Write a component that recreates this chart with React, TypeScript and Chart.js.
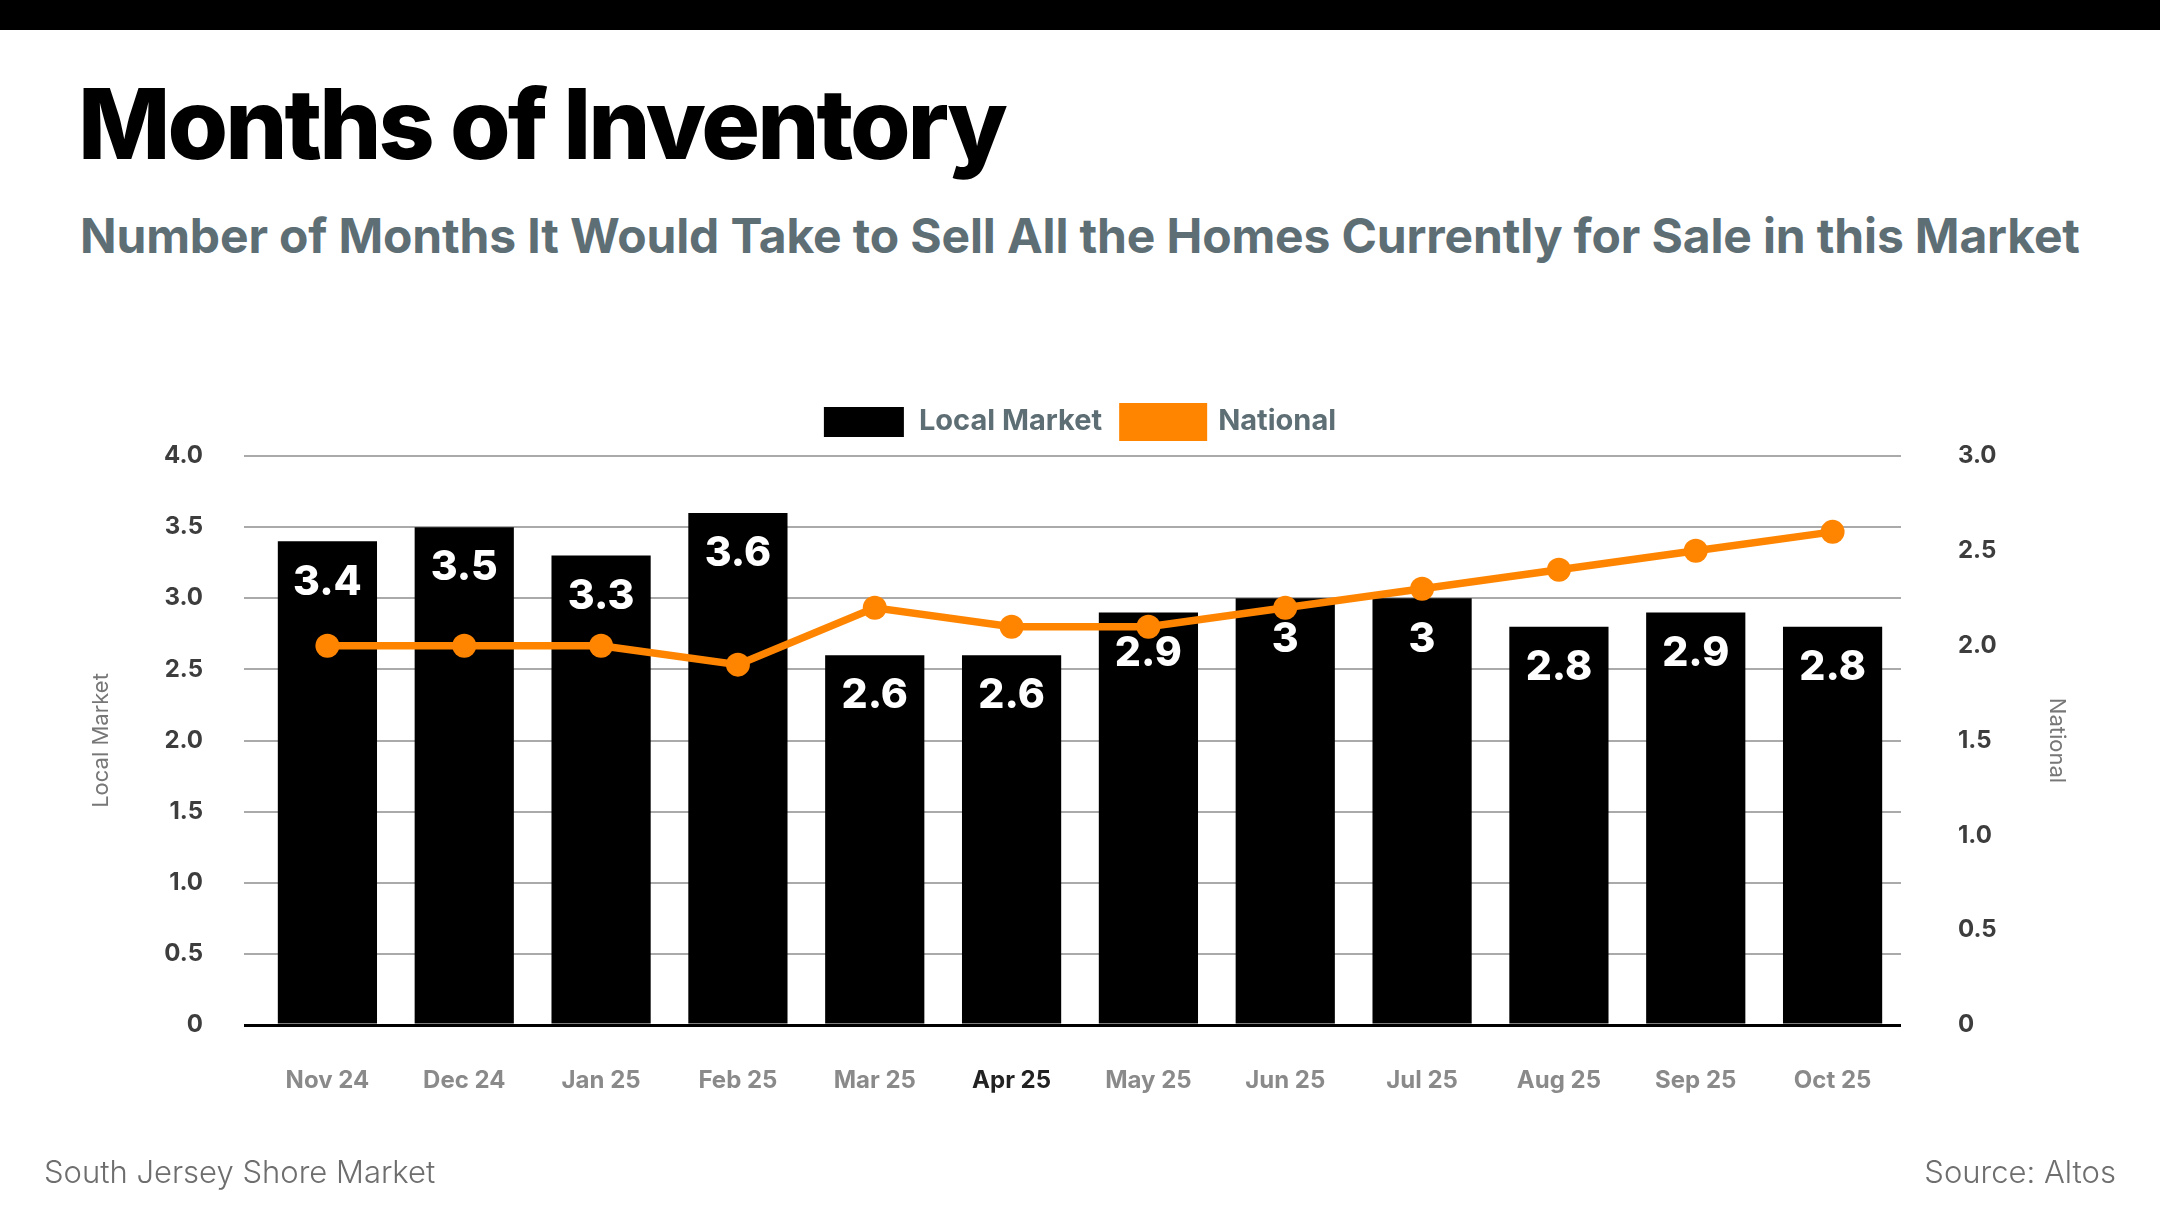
import React, { useEffect, useRef } from 'react';
import { Chart, registerables, Plugin } from 'chart.js';

Chart.register(...registerables);

const months = ['Nov 24', 'Dec 24', 'Jan 25', 'Feb 25', 'Mar 25', 'Apr 25', 'May 25', 'Jun 25', 'Jul 25', 'Aug 25', 'Sep 25', 'Oct 25'];
const localMarket = [3.4, 3.5, 3.3, 3.6, 2.6, 2.6, 2.9, 3, 3, 2.8, 2.9, 2.8];
const national = [2.0, 2.0, 2.0, 1.9, 2.2, 2.1, 2.1, 2.2, 2.3, 2.4, 2.5, 2.6];
const localMax = 4;
const nationalMax = 3;

const FONT = 'Inter, "Noto Sans", sans-serif';
const ORANGE = '#ff8500';
const highlighted = 'Apr 25';

const fmt = (v: number | string) => (Number(v) === 0 ? '0' : Number(v).toFixed(1));
const isZero = (c: any) => c.tick && c.tick.value === 0;

// white value labels inside the top of each bar, drawn before the line
const barLabels: Plugin<'bar'> = {
  id: 'barLabels',
  afterDatasetDraw(chart, args) {
    if (args.index !== 0) return;
    const { ctx } = chart;
    ctx.save();
    ctx.font = `800 41px ${FONT}`;
    ctx.fillStyle = '#ffffff';
    ctx.textAlign = 'center';
    ctx.textBaseline = 'middle';
    args.meta.data.forEach((bar: any, i: number) => {
      ctx.fillText(String(localMarket[i]), bar.x, bar.y + 41);
    });
    ctx.restore();
  },
};

// legend row above the plot, centred on the plot area
const topLegend: Plugin = {
  id: 'topLegend',
  afterDraw(chart) {
    const { ctx, chartArea } = chart;
    const boxW = 80;
    const boxH = 30;
    const textGap = 15;
    const itemGap = 21;
    ctx.save();
    ctx.font = `700 29px ${FONT}`;
    const items = chart.data.datasets.map((ds: any) => ({
      text: ds.label as string,
      color: ds.type === 'line' ? ds.borderColor : ds.backgroundColor,
      stroke: ds.type === 'line' ? 8 : 0,
      w: ctx.measureText(ds.label).width,
    }));
    const total = items.reduce((s, it) => s + boxW + textGap + it.w, 0) + itemGap * (items.length - 1);
    let x = (chartArea.left + chartArea.right) / 2 - total / 2;
    const cy = chartArea.top - 34;
    items.forEach((it) => {
      ctx.fillStyle = it.color;
      ctx.fillRect(x, cy - boxH / 2, boxW, boxH);
      if (it.stroke) {
        ctx.strokeStyle = it.color;
        ctx.lineWidth = it.stroke;
        ctx.strokeRect(x, cy - boxH / 2, boxW, boxH);
      }
      x += boxW + textGap;
      ctx.fillStyle = '#5e6e75';
      ctx.textAlign = 'left';
      ctx.textBaseline = 'middle';
      ctx.fillText(it.text, x, cy - 1);
      x += it.w + itemGap;
    });
    ctx.restore();
  },
};

function InventoryChart() {
  const canvasRef = useRef<HTMLCanvasElement>(null);

  useEffect(() => {
    if (!canvasRef.current) return;
    const chart = new Chart(canvasRef.current, {
      type: 'bar',
      data: {
        labels: months,
        datasets: [
          {
            type: 'bar',
            label: 'Local Market',
            data: localMarket,
            backgroundColor: '#000000',
            barPercentage: 0.725,
            categoryPercentage: 1,
            yAxisID: 'y',
            order: 1,
          },
          {
            type: 'line',
            label: 'National',
            data: national,
            borderColor: ORANGE,
            backgroundColor: ORANGE,
            borderWidth: 7.5,
            pointRadius: 12,
            pointBackgroundColor: ORANGE,
            pointBorderWidth: 0,
            tension: 0,
            yAxisID: 'y1',
            order: 0,
          } as any,
        ],
      },
      options: {
        animation: false,
        responsive: true,
        maintainAspectRatio: false,
        layout: { padding: { top: 76, left: 60, right: 60, bottom: 0 } },
        plugins: {
          tooltip: { enabled: false },
          legend: { display: false },
        },
        scales: {
          x: {
            grid: { display: false },
            border: { display: false },
            ticks: {
              padding: 33,
              color: (c: any) => (months[c.index] === highlighted ? '#222222' : '#8a8a8a'),
              font: { family: FONT, size: 24, weight: 'bold' },
            },
            afterFit: (s: any) => { s.height = 135; },
          },
          y: {
            position: 'left',
            min: 0,
            max: localMax,
            ticks: {
              stepSize: 0.5,
              padding: 41,
              color: '#3d3d3d',
              font: { family: FONT, size: 24, weight: 'bold' },
              callback: (v) => fmt(v),
            },
            grid: {
              drawTicks: true,
              tickLength: 15,
              color: (c: any) => (isZero(c) ? '#000000' : '#aaaaaa'),
              tickColor: (c: any) => (isZero(c) ? '#000000' : '#aaaaaa'),
              lineWidth: (c: any) => (isZero(c) ? 3 : 2),
              tickWidth: (c: any) => (isZero(c) ? 3 : 2),
            },
            border: { display: false },
            title: {
              display: true,
              text: 'Local Market',
              color: '#777777',
              font: { family: FONT, size: 22, weight: 'normal' },
              padding: { top: 28, bottom: 0 },
            },
            afterFit: (s: any) => { s.width = 199; },
          },
          y1: {
            position: 'right',
            min: 0,
            max: nationalMax,
            ticks: {
              stepSize: 0.5,
              padding: 57,
              color: '#3d3d3d',
              font: { family: FONT, size: 24, weight: 'bold' },
              callback: (v) => fmt(v),
            },
            grid: { drawOnChartArea: false, drawTicks: false },
            border: { display: false },
            title: {
              display: true,
              text: 'National',
              color: '#777777',
              font: { family: FONT, size: 22, weight: 'normal' },
              padding: { top: 30, bottom: 0 },
            },
            afterFit: (s: any) => { s.width = 199; },
          },
        },
      },
      plugins: [barLabels, topLegend],
    });
    return () => chart.destroy();
  }, []);

  return <canvas ref={canvasRef}></canvas>;
}

export default function App() {
  return (
    <div
      style={{
        position: 'fixed',
        left: 0,
        top: 0,
        width: 2160,
        height: 1215,
        background: '#ffffff',
        overflow: 'hidden',
        fontFamily: FONT,
      }}
    >
      <div style={{ position: 'absolute', left: 0, top: 0, width: 2160, height: 30, background: '#000' }} />
      <div
        style={{
          position: 'absolute',
          left: 78,
          top: 64,
          fontSize: 98,
          fontWeight: 800,
          color: '#000',
          lineHeight: '120px',
          whiteSpace: 'nowrap',
          letterSpacing: -3,
        }}
      >
        Months of Inventory
      </div>
      <div
        style={{
          position: 'absolute',
          left: 80,
          top: 206,
          fontSize: 48,
          fontWeight: 700,
          color: '#5e6e75',
          lineHeight: '60px',
          whiteSpace: 'nowrap',
          letterSpacing: -0.15,
        }}
      >
        Number of Months It Would Take to Sell All the Homes Currently for Sale in this Market
      </div>
      <div style={{ position: 'absolute', left: 0, top: 380, width: 2160, height: 780 }}>
        <InventoryChart />
      </div>
      <div
        style={{
          position: 'absolute',
          left: 44,
          top: 1152,
          fontSize: 31,
          fontWeight: 300,
          color: '#6e6e6e',
          lineHeight: '40px',
          whiteSpace: 'nowrap',
        }}
      >
        South Jersey Shore Market
      </div>
      <div
        style={{
          position: 'absolute',
          right: 44,
          top: 1152,
          fontSize: 31,
          fontWeight: 300,
          color: '#6e6e6e',
          lineHeight: '40px',
          whiteSpace: 'nowrap',
        }}
      >
        Source: Altos
      </div>
    </div>
  );
}
